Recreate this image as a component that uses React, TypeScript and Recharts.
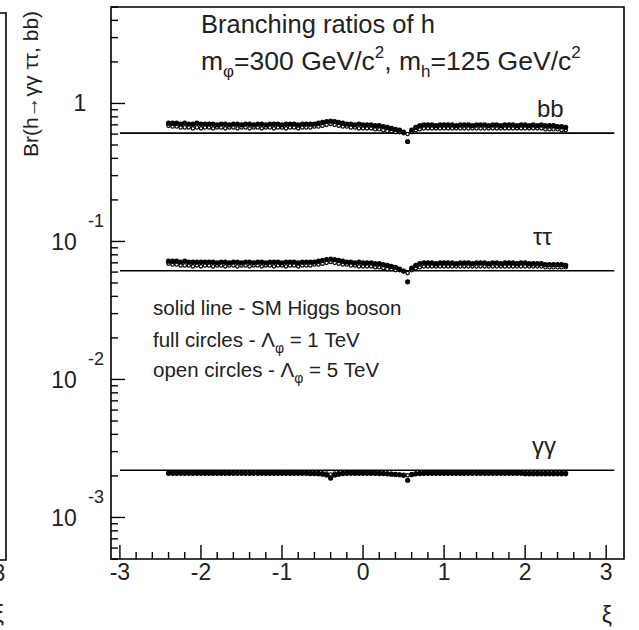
import { ScatterChart, Scatter, XAxis, YAxis, ReferenceLine, ReferenceArea } from 'recharts';

// ξ grid of the scan
const xi = [
  -2.4, -2.35, -2.3, -2.25, -2.2, -2.15, -2.1, -2.05, -2.0, -1.95,
  -1.9, -1.85, -1.8, -1.75, -1.7, -1.65, -1.6, -1.55, -1.5, -1.45,
  -1.4, -1.35, -1.3, -1.25, -1.2, -1.15, -1.1, -1.05, -1.0, -0.95,
  -0.9, -0.85, -0.8, -0.75, -0.7, -0.65, -0.6, -0.55, -0.5, -0.45,
  -0.4, -0.35, -0.3, -0.25, -0.2, -0.15, -0.1, -0.05, 0.0, 0.05,
  0.1, 0.15, 0.2, 0.25, 0.3, 0.35, 0.4, 0.45, 0.5, 0.55,
  0.6, 0.65, 0.7, 0.75, 0.8, 0.85, 0.9, 0.95, 1.0, 1.05,
  1.1, 1.15, 1.2, 1.25, 1.3, 1.35, 1.4, 1.45, 1.5, 1.55,
  1.6, 1.65, 1.7, 1.75, 1.8, 1.85, 1.9, 1.95, 2.0, 2.05,
  2.1, 2.15, 2.2, 2.25, 2.3, 2.35, 2.4, 2.45, 2.5,
];

// Br(h -> bb), Λφ = 1 TeV (full) and 5 TeV (open)
const bbFull = [
  0.72, 0.72, 0.72, 0.71, 0.72, 0.71, 0.71, 0.72, 0.71, 0.71,
  0.71, 0.71, 0.70, 0.71, 0.71, 0.70, 0.71, 0.71, 0.70, 0.71,
  0.71, 0.70, 0.71, 0.71, 0.70, 0.71, 0.71, 0.71, 0.70, 0.71,
  0.71, 0.71, 0.70, 0.71, 0.71, 0.71, 0.71, 0.72, 0.73, 0.74,
  0.745, 0.74, 0.73, 0.72, 0.71, 0.71, 0.70, 0.71, 0.70, 0.70,
  0.70, 0.69, 0.69, 0.68, 0.67, 0.66, 0.65, 0.64, 0.62, 0.53,
  0.64, 0.67, 0.69, 0.70, 0.70, 0.70, 0.69, 0.70, 0.70, 0.70,
  0.70, 0.69, 0.70, 0.70, 0.70, 0.69, 0.70, 0.70, 0.70, 0.69,
  0.70, 0.70, 0.69, 0.70, 0.70, 0.70, 0.69, 0.70, 0.70, 0.69,
  0.70, 0.69, 0.70, 0.69, 0.69, 0.69, 0.68, 0.68, 0.67,
];
const bbOpen = [
  0.69, 0.68, 0.68, 0.67, 0.67, 0.67, 0.66, 0.67, 0.66, 0.67,
  0.67, 0.66, 0.67, 0.67, 0.66, 0.67, 0.67, 0.66, 0.67, 0.67,
  0.66, 0.67, 0.67, 0.66, 0.67, 0.67, 0.66, 0.67, 0.67, 0.66,
  0.67, 0.67, 0.66, 0.67, 0.67, 0.67, 0.68, 0.68, 0.69, 0.70,
  0.71, 0.70, 0.69, 0.68, 0.68, 0.67, 0.67, 0.66, 0.66, 0.66,
  0.66, 0.65, 0.65, 0.64, 0.63, 0.63, 0.62, 0.62, 0.61, 0.60,
  0.62, 0.64, 0.65, 0.66, 0.66, 0.66, 0.66, 0.66, 0.66, 0.66,
  0.66, 0.66, 0.66, 0.66, 0.66, 0.66, 0.66, 0.66, 0.66, 0.66,
  0.66, 0.66, 0.66, 0.66, 0.66, 0.66, 0.66, 0.66, 0.66, 0.66,
  0.66, 0.66, 0.66, 0.65, 0.65, 0.65, 0.65, 0.64, 0.64,
];

// Br(h -> ττ)
const tauFull = [
  0.072, 0.072, 0.072, 0.071, 0.072, 0.071, 0.071, 0.071, 0.071, 0.071,
  0.071, 0.071, 0.070, 0.071, 0.071, 0.070, 0.071, 0.071, 0.070, 0.071,
  0.071, 0.070, 0.071, 0.071, 0.070, 0.071, 0.071, 0.071, 0.070, 0.071,
  0.071, 0.071, 0.070, 0.071, 0.071, 0.071, 0.071, 0.072, 0.073, 0.074,
  0.0745, 0.074, 0.073, 0.072, 0.071, 0.071, 0.070, 0.071, 0.070, 0.070,
  0.070, 0.069, 0.069, 0.068, 0.067, 0.066, 0.065, 0.063, 0.061, 0.051,
  0.064, 0.067, 0.069, 0.070, 0.070, 0.070, 0.069, 0.070, 0.070, 0.070,
  0.070, 0.069, 0.070, 0.070, 0.070, 0.069, 0.070, 0.070, 0.070, 0.069,
  0.070, 0.070, 0.069, 0.070, 0.070, 0.070, 0.069, 0.070, 0.070, 0.069,
  0.069, 0.069, 0.069, 0.068, 0.068, 0.068, 0.068, 0.068, 0.067,
];
const tauOpen = [
  0.069, 0.068, 0.068, 0.067, 0.067, 0.067, 0.066, 0.067, 0.066, 0.067,
  0.067, 0.066, 0.067, 0.067, 0.066, 0.067, 0.067, 0.066, 0.067, 0.067,
  0.066, 0.067, 0.067, 0.066, 0.067, 0.067, 0.066, 0.067, 0.067, 0.066,
  0.067, 0.067, 0.066, 0.067, 0.067, 0.067, 0.068, 0.068, 0.069, 0.070,
  0.071, 0.070, 0.069, 0.068, 0.068, 0.067, 0.067, 0.066, 0.066, 0.066,
  0.066, 0.065, 0.065, 0.064, 0.063, 0.063, 0.062, 0.062, 0.061, 0.059,
  0.062, 0.064, 0.065, 0.066, 0.066, 0.066, 0.066, 0.066, 0.066, 0.066,
  0.066, 0.066, 0.066, 0.066, 0.066, 0.066, 0.066, 0.066, 0.066, 0.066,
  0.066, 0.066, 0.066, 0.066, 0.066, 0.066, 0.066, 0.066, 0.066, 0.066,
  0.066, 0.066, 0.066, 0.065, 0.065, 0.065, 0.065, 0.065, 0.065,
];

// Br(h -> γγ)
const gamFull = [
  0.00209, 0.00209, 0.00209, 0.00209, 0.00209, 0.00209, 0.00209, 0.00209, 0.00209, 0.00209,
  0.00209, 0.00209, 0.00209, 0.00209, 0.00209, 0.00209, 0.00209, 0.00209, 0.00209, 0.00209,
  0.00209, 0.00209, 0.00209, 0.00209, 0.00209, 0.00209, 0.00209, 0.00209, 0.00209, 0.00209,
  0.00209, 0.00209, 0.00209, 0.00209, 0.00209, 0.00208, 0.00208, 0.00207, 0.00206, 0.00203,
  0.00193, 0.00203, 0.00206, 0.00208, 0.00209, 0.00209, 0.00209, 0.00209, 0.00209, 0.00209,
  0.00209, 0.00209, 0.00208, 0.00208, 0.00207, 0.00206, 0.00205, 0.00204, 0.00202, 0.00186,
  0.00204, 0.00207, 0.00208, 0.00209, 0.00209, 0.00209, 0.00209, 0.00209, 0.00209, 0.00209,
  0.00209, 0.00209, 0.00209, 0.00209, 0.00209, 0.00209, 0.00209, 0.00209, 0.00209, 0.00209,
  0.00209, 0.00209, 0.00209, 0.00209, 0.00209, 0.00209, 0.00209, 0.00209, 0.00209, 0.00209,
  0.00209, 0.00209, 0.00209, 0.00209, 0.00209, 0.00209, 0.00209, 0.00209, 0.00209,
];
const gamOpen = [
  0.00211, 0.00211, 0.00211, 0.00211, 0.00211, 0.00211, 0.00211, 0.00211, 0.00211, 0.00211,
  0.00211, 0.00211, 0.00211, 0.00211, 0.00211, 0.00211, 0.00211, 0.00211, 0.00211, 0.00211,
  0.00211, 0.00211, 0.00211, 0.00211, 0.00211, 0.00211, 0.00211, 0.00211, 0.00211, 0.00211,
  0.00211, 0.00211, 0.00211, 0.00211, 0.00211, 0.00211, 0.00211, 0.00210, 0.00209, 0.00208,
  0.00205, 0.00208, 0.00209, 0.00210, 0.00211, 0.00211, 0.00211, 0.00211, 0.00211, 0.00211,
  0.00211, 0.00211, 0.00210, 0.00209, 0.00208, 0.00207, 0.00206, 0.00205, 0.00204, 0.00202,
  0.00206, 0.00208, 0.00210, 0.00211, 0.00211, 0.00211, 0.00211, 0.00211, 0.00211, 0.00211,
  0.00211, 0.00211, 0.00211, 0.00211, 0.00211, 0.00211, 0.00211, 0.00211, 0.00211, 0.00211,
  0.00211, 0.00211, 0.00211, 0.00211, 0.00211, 0.00211, 0.00211, 0.00211, 0.00206, 0.00206,
  0.00206, 0.00206, 0.00206, 0.00206, 0.00206, 0.00206, 0.00206, 0.00206, 0.00206,
];

// SM Higgs boson: bb, ττ, γγ
const smLevels = [0.61, 0.0614, 0.0022];
const smRange = [-3.0, 3.1];

const xDomain = [-3.11, 3.22];
const yDomain = [5e-4, 5];
const xMajor = [-3, -2, -1, 0, 1, 2, 3];
const xMinor = [
  -2.8, -2.6, -2.4, -2.2, -1.8, -1.6, -1.4, -1.2, -0.8, -0.6, -0.4, -0.2,
  0.2, 0.4, 0.6, 0.8, 1.2, 1.4, 1.6, 1.8, 2.2, 2.4, 2.6, 2.8,
];
const yMajor = [1e-3, 1e-2, 1e-1, 1];
const yMinor = [
  5e-4, 6e-4, 7e-4, 8e-4, 9e-4,
  2e-3, 3e-3, 4e-3, 5e-3, 6e-3, 7e-3, 8e-3, 9e-3,
  2e-2, 3e-2, 4e-2, 5e-2, 6e-2, 7e-2, 8e-2, 9e-2,
  0.2, 0.3, 0.4, 0.5, 0.6, 0.7, 0.8, 0.9,
  2, 3, 4, 5,
];
const yExponents = ['-3', '-2', '-1', ''];

const FONT = '"Liberation Sans", Arial, Helvetica, sans-serif';

const toPoints = (vals: number[]) => xi.map((x, i) => ({ x, y: vals[i] }));

const FullDot = (p: any) => <circle cx={p.cx} cy={p.cy} r={2.6} fill='#000' />;
const OpenDot = (p: any) => <circle cx={p.cx} cy={p.cy} r={1.7} fill='#fff' stroke='#000' strokeWidth={1.2} />;

const YTick = (props: any) => {
  const { x, y, payload } = props;
  const v = payload.value;
  const idx = yMajor.indexOf(v);
  const major = idx >= 0;
  return (
    <g>
      <line x1={x} x2={x + (major ? 14 : 7)} y1={y} y2={y} stroke='#000' strokeWidth={1.4} />
      {major && yExponents[idx] === '' && (
        <text x={x - 31} y={y + 8} textAnchor='middle' fontSize={23} fontFamily={FONT} fill='#222'>
          1
        </text>
      )}
      {major && yExponents[idx] !== '' && (
        <g fontFamily={FONT} fill='#222'>
          <text x={x - 47} y={y + 9} textAnchor='middle' fontSize={23}>
            10
          </text>
          <text x={x - 23} y={y - 14} textAnchor='start' fontSize={18}>
            {yExponents[idx]}
          </text>
        </g>
      )}
    </g>
  );
};

const XTick = (props: any) => {
  const { x, y, payload } = props;
  const v = payload.value;
  const major = xMajor.includes(v);
  return (
    <g>
      <line x1={x} x2={x} y1={y} y2={y - (major ? 14 : 7)} stroke='#000' strokeWidth={1.4} />
      {major && (
        <text x={x} y={y + 21} textAnchor='middle' fontSize={23} fontFamily={FONT} fill='#222'>
          {v}
        </text>
      )}
    </g>
  );
};

export default function App() {
  return (
    <div style={{ position: 'absolute', left: 0, top: 0, width: 639, height: 630, background: '#fff' }}>
      <ScatterChart width={639} height={630} margin={{ top: 7, right: 15, bottom: 41, left: 51 }}>
        <XAxis
          type='number'
          dataKey='x'
          domain={xDomain}
          allowDataOverflow
          ticks={[...xMajor, ...xMinor]}
          interval={0}
          axisLine={false}
          tickLine={false}
          tickSize={0}
          tickMargin={0}
          tick={<XTick />}
          height={30}
        />
        <YAxis
          type='number'
          dataKey='y'
          scale='log'
          domain={yDomain}
          allowDataOverflow
          ticks={[...yMajor, ...yMinor]}
          interval={0}
          axisLine={false}
          tickLine={false}
          tickSize={0}
          tickMargin={0}
          tick={<YTick />}
          width={60}
        />
        {smLevels.map((lvl) => (
          <ReferenceLine
            key={lvl}
            segment={[
              { x: smRange[0], y: lvl },
              { x: smRange[1], y: lvl },
            ]}
            stroke='#000'
            strokeWidth={1.6}
          />
        ))}
        <Scatter data={toPoints(bbOpen)} shape={OpenDot} isAnimationActive={false} />
        <Scatter data={toPoints(bbFull)} shape={FullDot} isAnimationActive={false} />
        <Scatter data={toPoints(tauOpen)} shape={OpenDot} isAnimationActive={false} />
        <Scatter data={toPoints(tauFull)} shape={FullDot} isAnimationActive={false} />
        <Scatter data={toPoints(gamOpen)} shape={OpenDot} isAnimationActive={false} />
        <Scatter data={toPoints(gamFull)} shape={FullDot} isAnimationActive={false} />
        <ReferenceArea
          x1={xDomain[0]}
          x2={xDomain[1]}
          y1={yDomain[0]}
          y2={yDomain[1]}
          fill='none'
          stroke='#000'
          strokeWidth={1.6}
        />
      </ScatterChart>

      <svg
        width={639}
        height={630}
        style={{ position: 'absolute', left: 0, top: 0, pointerEvents: 'none' }}
        fontFamily={FONT}
        fill='#222'
      >
        {/* edge of the neighbouring panel */}
        <path d='M0 13 H6 V560 H0' fill='none' stroke='#000' strokeWidth={1.6} />
        <text x={-1} y={581} textAnchor='middle' fontSize={23}>3</text>
        <text x={-1} y={622} textAnchor='middle' fontSize={23}>ξ</text>

        <text transform='translate(38,84) rotate(-90)' textAnchor='middle' fontSize={21}>
          Br(h→γγ ττ, bb)
        </text>

        <text x={201} y={33} fontSize={25.5}>Branching ratios of h</text>
        <text x={201} y={70} fontSize={26.5}>
          m<tspan fontSize={17} dy={7}>φ</tspan>
          <tspan dy={-7}>=300 GeV/c</tspan>
          <tspan fontSize={17} dy={-12}>2</tspan>
          <tspan dy={12}>, m</tspan>
          <tspan fontSize={17} dy={7}>h</tspan>
          <tspan dy={-7}>=125 GeV/c</tspan>
          <tspan fontSize={17} dy={-12}>2</tspan>
        </text>

        <text x={537} y={117} fontSize={24}>bb</text>
        <text x={533} y={245} fontSize={24}>ττ</text>
        <text x={532} y={454} fontSize={24}>γγ</text>

        <g fontSize={20.5}>
          <text x={153} y={315}>solid line - SM Higgs boson</text>
          <text x={153} y={347}>
            full circles - Λ<tspan fontSize={14} dy={6}>φ</tspan>
            <tspan dy={-6}> = 1 TeV</tspan>
          </text>
          <text x={153} y={377}>
            open circles - Λ<tspan fontSize={14} dy={6}>φ</tspan>
            <tspan dy={-6}> = 5 TeV</tspan>
          </text>
        </g>

        <text x={607} y={623} textAnchor='middle' fontSize={23}>ξ</text>
      </svg>
    </div>
  );
}
